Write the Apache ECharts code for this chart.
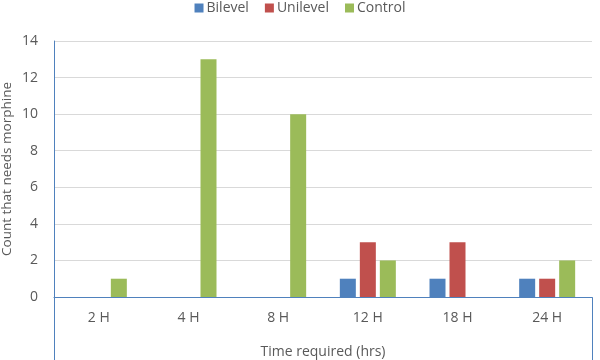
<!DOCTYPE html>
<html>
<head>
<meta charset="utf-8">
<script src="https://cdn.jsdelivr.net/npm/echarts@6/dist/echarts.min.js"></script>
<style>
  html, body { margin: 0; padding: 0; background: #fff; }
  #chart { width: 600px; height: 360px; }
</style>
</head>
<body>
<div id="chart"></div>
<script>
// data
var categories = ['2 H', '4 H', '8 H', '12 H', '18 H', '24 H'];
var bilevel = [0, 0, 0, 1, 1, 1];
var unilevel = [0, 0, 0, 3, 3, 1];
var control = [1, 13, 10, 2, 0, 2];

var textColor = '#595959';
var chart = echarts.init(document.getElementById('chart'));

function bar(name, data, color) {
    return {
        name: name,
        type: 'bar',
        data: data.map(function (v) { return v === 0 ? null : v; }),
        itemStyle: { color: color },
        barWidth: 16,
        barGap: '25%'
    };
}

chart.setOption({
    animation: false,
    textStyle: { fontFamily: 'Open Sans, sans-serif' },
    legend: {
        top: -4,
        left: 'center',
        itemWidth: 9,
        itemHeight: 9,
        itemGap: 16,
        icon: 'rect',
        textStyle: { color: textColor, fontSize: 14, padding: [0, 0, 0, -2] },
        data: ['Bilevel', 'Unilevel', 'Control']
    },
    grid: { left: 54, right: 8, top: 41, bottom: 63, containLabel: false, outerBoundsMode: 'none' },
    xAxis: {
        type: 'category',
        data: categories,
        name: 'Time required (hrs)',
        nameLocation: 'middle',
        nameGap: 48,
        nameMoveOverlap: false,
        nameTextStyle: { color: textColor, fontSize: 14 },
        axisLine: { lineStyle: { color: '#4F81BD', width: 1 } },
        axisTick: { show: false },
        axisLabel: { color: textColor, fontSize: 14, margin: 14 }
    },
    yAxis: {
        type: 'value',
        min: 0,
        max: 14,
        interval: 2,
        name: 'Count that needs morphine',
        nameLocation: 'middle',
        nameGap: 40,
        nameMoveOverlap: false,
        nameTextStyle: { color: textColor, fontSize: 13.5 },
        axisLine: { show: true, lineStyle: { color: '#4F81BD' } },
        axisLabel: { color: textColor, fontSize: 14, margin: 16 },
        splitLine: { lineStyle: { color: '#D9D9D9' } }
    },
    series: [
        bar('Bilevel', bilevel, '#4F81BD'),
        bar('Unilevel', unilevel, '#C0504D'),
        bar('Control', control, '#9BBB59')
    ],
    graphic: [{
        // frame under the category axis
        type: 'rect',
        shape: { x: 54.5, y: 297.5, width: 538, height: 70 },
        style: { fill: 'none', stroke: '#4F81BD', lineWidth: 1 },
        silent: true
    }]
});
</script>
</body>
</html>
